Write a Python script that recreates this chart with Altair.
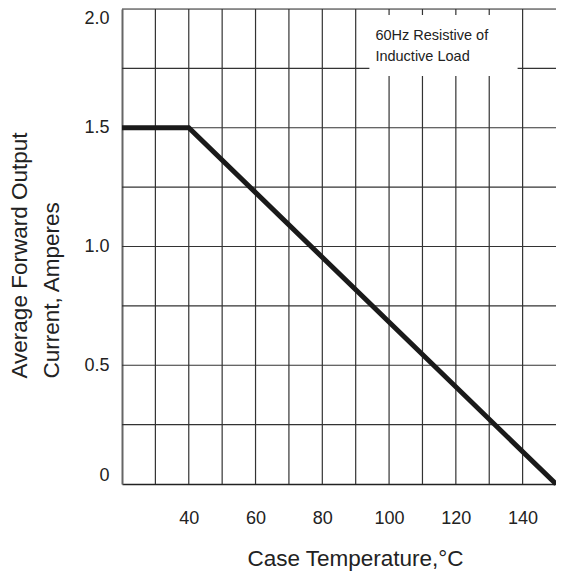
import altair as alt
import pandas as pd

# Derating curve
temps = [20, 40, 150]
currents = [1.5, 1.5, 0.0]

x_grid = [30, 40, 50, 60, 70, 80, 90, 100, 110, 120, 130, 140]
x_labels = [40, 60, 80, 100, 120, 140]
y_grid = [0.25, 0.5, 0.75, 1.0, 1.25, 1.5, 1.75, 2.0]
y_labels = [0, 0.5, 1.0, 1.5, 2.0]

note_lines = ["60Hz Resistive of", "Inductive Load"]
note_box = {"x": 94.1, "x2": 138.5, "y": 1.718, "y2": 1.975}
note_text = {"x": 95.9, "y": [1.888, 1.796]}

FONT = "Liberation Sans, Arial, sans-serif"
W, H = 434, 475

curve = pd.DataFrame({"t": temps, "i": currents})

xscale = alt.Scale(domain=[20, 150], nice=False, zero=False)
yscale = alt.Scale(domain=[0, 2.0], nice=False)

base_x = alt.X(
    "t:Q", scale=xscale,
    axis=alt.Axis(
        values=x_labels, grid=False, ticks=False, domain=True,
        domainColor="#222222", domainWidth=1.5,
        labelFont=FONT, labelFontSize=18, labelColor="#222222",
        labelPadding=25,
        title="Case Temperature,°C", titleFont=FONT, titleFontSize=22.5,
        titleFontWeight="normal", titleColor="#222222",
        titleX=233, titleY=81, titleAlign="center", titleBaseline="alphabetic",
    ),
)
base_y = alt.Y(
    "i:Q", scale=yscale,
    axis=alt.Axis(
        values=y_labels, grid=False, ticks=False, domain=True,
        domainColor="#666666", domainWidth=2,
        labelFont=FONT, labelFontSize=18, labelColor="#222222",
        labelPadding=13, labelFlush=True,
        labelExpr="datum.value == 0 ? '0' : format(datum.value, '.1f')",
        title=["Average Forward Output", "Current, Amperes"],
        titleFont=FONT, titleFontSize=22.5, titleFontWeight="normal",
        titleColor="#222222", titleAlign="left", titleBaseline="top",
        titleAngle=270, titleX=-113.5, titleY=369, titleLineHeight=32,
    ),
)

vgrid = alt.Chart(pd.DataFrame({"g": x_grid})).mark_rule(
    color="#333333", strokeWidth=1.2
).encode(x=alt.X("g:Q", scale=xscale), y=alt.value(0), y2=alt.value(H))

hgrid = alt.Chart(pd.DataFrame({"g": y_grid})).mark_rule(
    color="#333333", strokeWidth=1.2
).encode(y=alt.Y("g:Q", scale=yscale), x=alt.value(0), x2=alt.value(W))

box = alt.Chart(pd.DataFrame([note_box])).mark_rect(color="white").encode(
    x=alt.X("x:Q", scale=xscale), x2="x2:Q",
    y=alt.Y("y:Q", scale=yscale), y2="y2:Q",
)

notes = alt.Chart(pd.DataFrame({
    "x": [note_text["x"]] * 2, "y": note_text["y"], "s": note_lines
})).mark_text(
    align="left", baseline="middle", font=FONT, fontSize=14.5, color="#222222"
).encode(
    x=alt.X("x:Q", scale=xscale), y=alt.Y("y:Q", scale=yscale), text="s:N"
)

line = alt.Chart(curve).mark_line(
    color="#1a1a1a", strokeWidth=5, strokeJoin="miter", strokeCap="butt"
).encode(x=base_x, y=base_y)

chart = alt.layer(vgrid, hgrid, box, notes, line).properties(
    width=W, height=H,
    autosize=alt.AutoSizeParams(type="none"),
    padding={"left": 114, "top": 1, "right": 0, "bottom": 90},
).configure_view(stroke=None).configure(background="white")

chart.save("out.html", embed_options={"renderer": "svg", "actions": False})
